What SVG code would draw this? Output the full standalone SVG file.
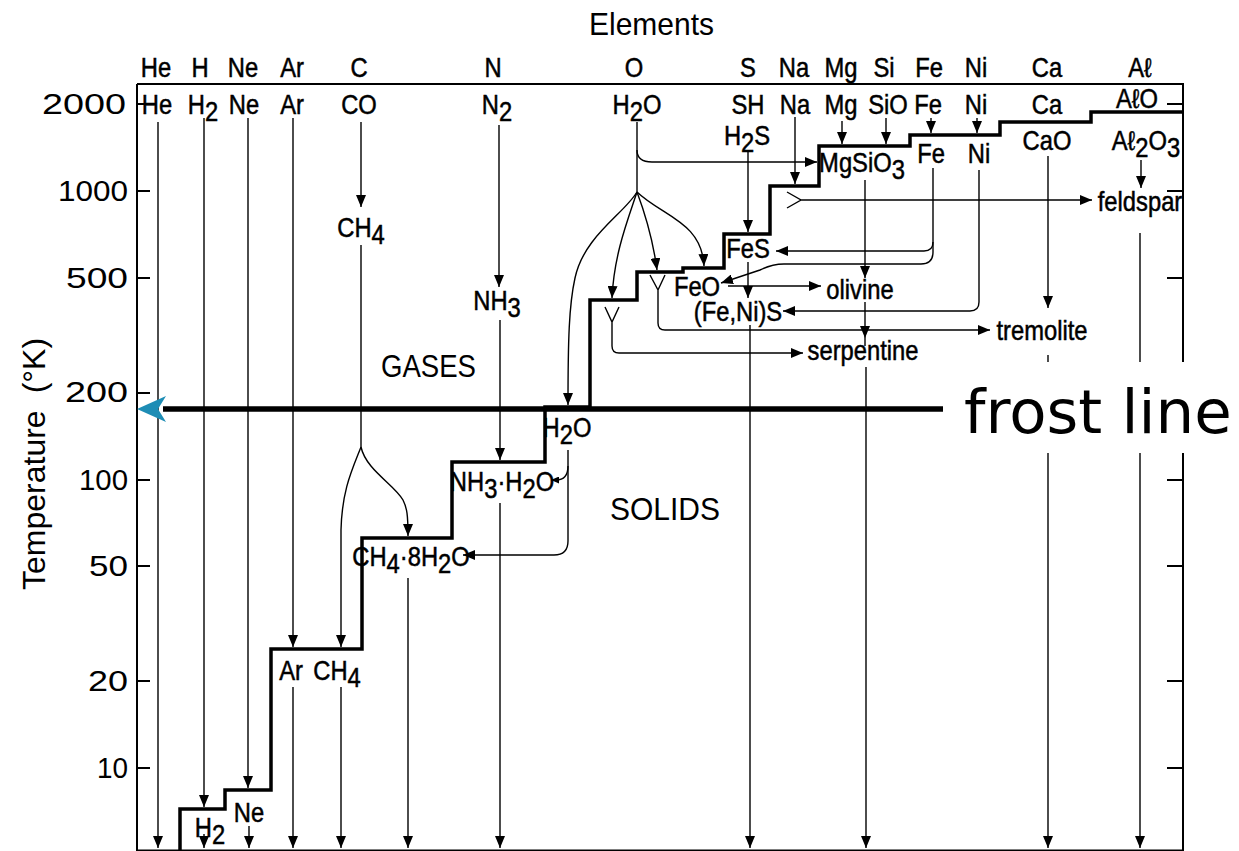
<svg xmlns="http://www.w3.org/2000/svg" width="1239" height="851" viewBox="0 0 1239 851">
<defs>
<style>
.t{font-family:"Liberation Sans",Arial,sans-serif;font-size:27px;fill:#000;stroke:#000;stroke-width:0.5;text-anchor:middle}
.n{font-family:"Liberation Sans",Arial,sans-serif;font-size:29px;fill:#000;text-anchor:end}
.big{font-family:"Liberation Sans",Arial,sans-serif;font-size:32px;fill:#000}
.ln{fill:none;stroke:#000;stroke-width:1.4}
.ar{fill:none;stroke:#000;stroke-width:1.4;marker-end:url(#ah)}
.sa{fill:none;stroke:#000;stroke-width:1.4;marker-end:url(#as)}
.ax{fill:none;stroke:#000;stroke-width:2}
.st{fill:none;stroke:#000;stroke-width:3.5}
</style>
<marker id="ah" viewBox="0 0 12 10" refX="12" refY="5" markerWidth="12" markerHeight="10" markerUnits="userSpaceOnUse" orient="auto"><path d="M0,0L12,5L0,10z"/></marker>
<marker id="as" viewBox="0 0 8 7" refX="8" refY="3.5" markerWidth="8" markerHeight="7" markerUnits="userSpaceOnUse" orient="auto"><path d="M0,0L8,3.5L0,7z"/></marker>
</defs>
<rect width="1239" height="851" fill="#fff"/>

<g id="axes">
<path class="ax" d="M137,84H1183V851M137,84V851M137,850.5H1183"/>
<path class="ax" d="M137,104H150M137,191H150M137,278H150M137,393H150M137,480H150M137,566H150M137,681H150M137,768H150"/>
<path class="ax" d="M1167,104H1183M1167,191H1183M1167,278H1183M1167,480H1183M1167,566H1183M1167,681H1183M1167,768H1183"/>
<text class="n" x="126" y="114" textLength="84" lengthAdjust="spacingAndGlyphs">2000</text>
<text class="n" x="128" y="201" textLength="70" lengthAdjust="spacingAndGlyphs">1000</text>
<text class="n" x="128" y="288" textLength="62" lengthAdjust="spacingAndGlyphs">500</text>
<text class="n" x="128" y="402" textLength="63" lengthAdjust="spacingAndGlyphs">200</text>
<text class="n" x="128" y="490" textLength="49" lengthAdjust="spacingAndGlyphs">100</text>
<text class="n" x="128" y="576" textLength="39" lengthAdjust="spacingAndGlyphs">50</text>
<text class="n" x="128" y="691" textLength="40" lengthAdjust="spacingAndGlyphs">20</text>
<text class="n" x="128" y="778" textLength="31" lengthAdjust="spacingAndGlyphs">10</text>
<text class="big" transform="translate(45,590) rotate(-90)" font-size="29">Temperature<tspan dx="17">(°K)</tspan></text>
<text class="big" x="589" y="35" textLength="125" lengthAdjust="spacingAndGlyphs">Elements</text>
<text class="big" x="381" y="377" textLength="95" lengthAdjust="spacingAndGlyphs">GASES</text>
<text class="big" x="610" y="520" textLength="110" lengthAdjust="spacingAndGlyphs">SOLIDS</text>
</g>

<g id="staircase">
<path class="st" d="M180,851V809H225V790H271V649H362V538H452V462H545V407H590V300H637V272H683V268H724V234H770V186H819V146H910V135H1000V122H1091V112H1183"/>
</g>

<g id="connectors">
<path class="ar" d="M158,122V848"/>
<path class="ar" d="M204,118V807"/>
<path class="ar" d="M204,834V848"/>
<path class="ar" d="M248,118V788"/>
<path class="ar" d="M249,826V848"/>
<path class="ar" d="M293,118V647"/>
<path class="ar" d="M293,687V848"/>
<path class="ar" d="M361,122V207"/>
<path class="ln" d="M361,245V447"/>
<path class="ar" d="M361,447C352,470 342,490 341,530V647"/>
<path class="ar" d="M361,447C366,470 395,485 403,500C407,508 408,515 408,536"/>
<path class="ar" d="M341,687V848"/>
<path class="ar" d="M408,578V848"/>
<path class="ar" d="M499,125V287"/>
<path class="ar" d="M500,320V460"/>
<path class="ar" d="M500,503V848"/>
<path class="ln" d="M637,122V192"/>
<path class="ar" d="M637,150Q637,162 652,162H817"/>
<path class="ar" d="M637,192C624,214 584,236 575,278C569,305 568,340 568,405"/>
<path class="ar" d="M637,192C627,222 614,255 612,298"/>
<path class="ar" d="M637,192C646,216 653,240 657,270"/>
<path class="ar" d="M637,192C662,216 702,222 704,266"/>
<path class="ar" d="M605,307L612,322L619,307M612,322V346Q612,353 619,353H803"/>
<path class="ar" d="M650,275L658,290L665,275M658,290V323Q658,330 665,330H990"/>
<path class="ar" d="M787,192L801,200L787,208M801,200H1092"/>
<path class="ar" d="M568,450V541Q568,555 554,555H463"/>
<path class="sa" d="M568,466Q568,480 556,480H551"/>
<path class="ar" d="M748,152V232"/>
<path class="ar" d="M748,262V298"/>
<path class="ar" d="M750,325V848"/>
<path class="ar" d="M795,117V184"/>
<path class="ar" d="M842,121V144"/>
<path class="ar" d="M886,118V144"/>
<path class="ar" d="M931,118V133"/>
<path class="ar" d="M977,118V133"/>
<path class="ar" d="M933,168V242Q933,251 924,251H776"/>
<path class="ar" d="M933,242V252Q933,264 921,264H784Q772,264 760,270L721,283"/>
<path class="ar" d="M979,170V302Q979,311 970,311H783"/>
<path class="ar" d="M728,286H821"/>
<path class="ar" d="M865,180V278"/>
<path class="ar" d="M865,302V338"/>
<path class="ln" d="M865,338V346"/>
<path class="ar" d="M866,367V848"/>
<path class="ar" d="M1048,156V308"/>
<path class="ar" d="M1048,355V848"/>
<path class="ar" d="M1141,160V188"/>
<path class="ar" d="M1140,233V848"/>
</g>

<g id="row1">
<g id="e-He"><text class="t" transform="translate(156,77) scale(.88,1)">He</text></g>
<g id="e-H"><text class="t" transform="translate(200,77) scale(.88,1)">H</text></g>
<g id="e-Ne"><text class="t" transform="translate(243,77) scale(.88,1)">Ne</text></g>
<g id="e-Ar"><text class="t" transform="translate(292,77) scale(.88,1)">Ar</text></g>
<g id="e-C"><text class="t" transform="translate(359,77) scale(.88,1)">C</text></g>
<g id="e-N"><text class="t" transform="translate(493,77) scale(.88,1)">N</text></g>
<g id="e-O"><text class="t" transform="translate(634,77) scale(.88,1)">O</text></g>
<g id="e-S"><text class="t" transform="translate(748,77) scale(.88,1)">S</text></g>
<g id="e-Na"><text class="t" transform="translate(794,77) scale(.88,1)">Na</text></g>
<g id="e-Mg"><text class="t" transform="translate(841,77) scale(.88,1)">Mg</text></g>
<g id="e-Si"><text class="t" transform="translate(884,77) scale(.88,1)">Si</text></g>
<g id="e-Fe"><text class="t" transform="translate(929,77) scale(.88,1)">Fe</text></g>
<g id="e-Ni"><text class="t" transform="translate(976,77) scale(.88,1)">Ni</text></g>
<g id="e-Ca"><text class="t" transform="translate(1047,77) scale(.88,1)">Ca</text></g>
<g id="e-Al"><text class="t" transform="translate(1140,77) scale(.88,1)">Aℓ</text></g>
</g>

<g id="row2">
<g id="g-He"><text class="t" transform="translate(157,114) scale(.88,1)">He</text></g>
<g id="g-H2"><text class="t" transform="translate(203,114) scale(.88,1)">H<tspan dy="7">2</tspan></text></g>
<g id="g-Ne"><text class="t" transform="translate(244,114) scale(.88,1)">Ne</text></g>
<g id="g-Ar"><text class="t" transform="translate(292,114) scale(.88,1)">Ar</text></g>
<g id="g-CO"><text class="t" transform="translate(359,114) scale(.88,1)">CO</text></g>
<g id="g-N2"><text class="t" transform="translate(497,114) scale(.88,1)">N<tspan dy="7">2</tspan></text></g>
<g id="g-H2O"><text class="t" transform="translate(637,114) scale(.88,1)">H<tspan dy="7">2</tspan><tspan dy="-7">O</tspan></text></g>
<g id="g-SH"><text class="t" transform="translate(748,114) scale(.88,1)">SH</text></g>
<g id="g-Na"><text class="t" transform="translate(795,114) scale(.88,1)">Na</text></g>
<g id="g-Mg"><text class="t" transform="translate(841,114) scale(.88,1)">Mg</text></g>
<g id="g-SiO"><text class="t" transform="translate(888,114) scale(.88,1)">SiO</text></g>
<g id="g-Fe"><text class="t" transform="translate(928,114) scale(.88,1)">Fe</text></g>
<g id="g-Ni"><text class="t" transform="translate(976,114) scale(.88,1)">Ni</text></g>
<g id="g-Ca"><text class="t" transform="translate(1047,114) scale(.88,1)">Ca</text></g>
<g id="g-AlO"><text class="t" transform="translate(1137,108) scale(.88,1)">AℓO</text></g>
</g>

<g id="species">
<g id="s-H2S"><text class="t" transform="translate(747,145) scale(.88,1)">H<tspan dy="7">2</tspan><tspan dy="-7">S</tspan></text></g>
<g id="s-CaO"><text class="t" transform="translate(1047,150) scale(.88,1)">CaO</text></g>
<g id="s-Al2O3"><text class="t" transform="translate(1146,150) scale(.88,1)">Aℓ<tspan dy="7">2</tspan><tspan dy="-7">O</tspan><tspan dy="7">3</tspan></text></g>
<g id="s-Fe"><text class="t" transform="translate(931,163) scale(.88,1)">Fe</text></g>
<g id="s-Ni"><text class="t" transform="translate(979,163) scale(.88,1)">Ni</text></g>
<g id="s-MgSiO3"><text class="t" transform="translate(862,172) scale(.88,1)">MgSiO<tspan dy="7">3</tspan></text></g>
<g id="s-CH4a"><text class="t" transform="translate(361,237) scale(.88,1)">CH<tspan dy="7">4</tspan></text></g>
<g id="s-FeS"><text class="t" transform="translate(748,258) scale(.88,1)">FeS</text></g>
<g id="s-feldspar"><text class="t" transform="translate(1140,211) scale(.88,1)">feldspar</text></g>
<g id="s-FeO"><text class="t" transform="translate(697,296) scale(.88,1)">FeO</text></g>
<g id="s-olivine"><text class="t" transform="translate(860,299) scale(.88,1)">olivine</text></g>
<g id="s-NH3"><text class="t" transform="translate(497,310) scale(.88,1)">NH<tspan dy="7">3</tspan></text></g>
<g id="s-FeNiS"><text class="t" transform="translate(738,321) scale(.88,1)">(Fe,Ni)S</text></g>
<g id="s-tremolite"><text class="t" transform="translate(1042,340) scale(.88,1)">tremolite</text></g>
<g id="s-serpentine"><text class="t" transform="translate(863,360) scale(.88,1)">serpentine</text></g>
<g id="s-H2Os"><text class="t" transform="translate(567,437) scale(.88,1)">H<tspan dy="7">2</tspan><tspan dy="-7">O</tspan></text></g>
<g id="s-NH3H2O"><text class="t" transform="translate(502,491) scale(.88,1)">NH<tspan dy="7">3</tspan><tspan dy="-7">·H</tspan><tspan dy="7">2</tspan><tspan dy="-7">O</tspan></text></g>
<g id="s-CH48H2O"><text class="t" transform="translate(411,566) scale(.88,1)">CH<tspan dy="7">4</tspan><tspan dy="-7">·8H</tspan><tspan dy="7">2</tspan><tspan dy="-7">O</tspan></text></g>
<g id="s-Ar"><text class="t" transform="translate(291,680) scale(.88,1)">Ar</text></g>
<g id="s-CH4b"><text class="t" transform="translate(337,680) scale(.88,1)">CH<tspan dy="7">4</tspan></text></g>
<g id="s-Ne"><text class="t" transform="translate(249,822) scale(.88,1)">Ne</text></g>
<g id="s-H2"><text class="t" transform="translate(210,837) scale(.88,1)">H<tspan dy="7">2</tspan></text></g>
</g>

<g id="frost">
<rect x="950" y="362" width="289" height="91" fill="#fff"/>
<path d="M163,409H943" stroke="#000" stroke-width="5.5"/>
<path d="M137,409L166,396L158,409L166,422Z" fill="#1E8DB5"/>
<text x="964" y="433" font-family="DejaVu Sans, Verdana, sans-serif" font-size="61" fill="#000">frost line</text>
</g>
</svg>
